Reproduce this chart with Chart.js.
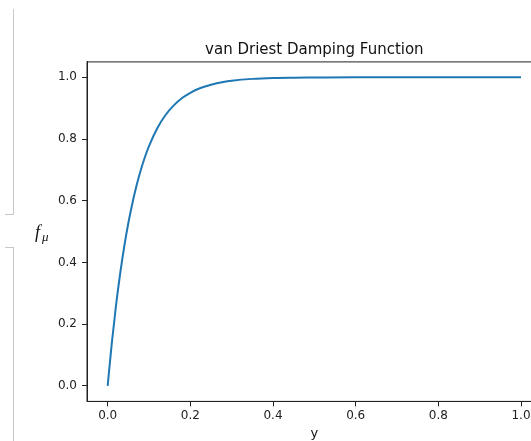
<!DOCTYPE html>
<html>
<head>
<meta charset="utf-8">
<script src="https://cdn.jsdelivr.net/npm/chart.js@4/dist/chart.umd.min.js"></script>
<style>
  html, body { margin: 0; padding: 0; background: #fff; overflow: hidden; }
  #wrap { position: relative; width: 531px; height: 441px; overflow: hidden; }
  #chart { position: absolute; left: 0; top: 0; }
  .edge { position: absolute; background: #c8c8c8; }
</style>
</head>
<body>
<div id="wrap">
  <canvas id="chart" width="545" height="441"></canvas>
  <div class="edge" style="left:13px; top:9px; width:1px; height:205px;"></div>
  <div class="edge" style="left:5px; top:214px; width:9px; height:1px;"></div>
  <div class="edge" style="left:5px; top:247px; width:9px; height:1px;"></div>
  <div class="edge" style="left:13px; top:247px; width:1px; height:194px;"></div>
</div>
<script>
// values
const yPos = [0, 0.01, 0.02, 0.03, 0.04, 0.05, 0.06, 0.07, 0.08, 0.09, 0.10,
              0.12, 0.14, 0.16, 0.18, 0.20, 0.22, 0.25, 0.28, 0.30, 0.35,
              0.40, 0.45, 0.50, 0.60, 0.70, 0.80, 0.90, 1.00];
const fMu = [0, 0.139, 0.259, 0.362, 0.451, 0.528, 0.593, 0.650, 0.699, 0.741, 0.777,
             0.835, 0.878, 0.909, 0.933, 0.950, 0.963, 0.976, 0.985, 0.989, 0.995,
             0.998, 0.999, 0.9994, 1.0, 1.0, 1.0, 1.0, 1.0];
const xTicks = [0, 0.2, 0.4, 0.6, 0.8, 1.0];
const yTicks = [0, 0.2, 0.4, 0.6, 0.8, 1.0];

const title = 'van Driest Damping Function';
const xLabel = 'y';

const axisColor = '#222';
const tickFont = { family: 'DejaVu Sans', size: 12 };

// frame + texts placed relative to the plot area
const decorations = {
    id: 'decorations',
    afterDraw(chart) {
        const { ctx, chartArea: a } = chart;
        ctx.save();
        ctx.strokeStyle = axisColor;
        ctx.lineWidth = 1;
        ctx.strokeRect(a.left, a.top, a.right - a.left, a.bottom - a.top);

        const cx = (a.left + a.right) / 2;
        ctx.fillStyle = '#111';
        ctx.textAlign = 'center';
        ctx.textBaseline = 'middle';
        ctx.font = '15px "DejaVu Sans"';
        ctx.fillText(title, cx, a.top - 12);

        ctx.font = '13px "DejaVu Sans"';
        ctx.fillText(xLabel, cx, a.bottom + 32);

        // y label: italic f with subscript mu
        const cy = (a.top + a.bottom) / 2;
        ctx.textAlign = 'left';
        ctx.textBaseline = 'alphabetic';
        ctx.font = 'italic 18px "Liberation Serif"';
        ctx.fillText('f', 35, cy + 6);
        ctx.font = 'italic 13px "Liberation Serif"';
        ctx.fillText('\u03bc', 42, cy + 9);
        ctx.restore();
    },
};

new Chart(document.getElementById('chart'), {
    type: 'line',
    data: {
        datasets: [{
            data: yPos.map((v, i) => ({ x: v, y: fMu[i] })),
            borderColor: '#1f77b4',
            borderWidth: 2,
            pointRadius: 0,
            cubicInterpolationMode: 'monotone',
            fill: false,
        }],
    },
    options: {
        responsive: false,
        animation: false,
        layout: { padding: { top: 61.9, right: 3.3, left: 0, bottom: 0 } },
        plugins: {
            legend: { display: false },
            tooltip: { enabled: false },
            title: { display: false },
        },
        scales: {
            x: {
                type: 'linear',
                min: -0.05,
                max: 1.05,
                afterFit: (s) => { s.height = 39.6; },
                afterBuildTicks: (s) => { s.ticks = xTicks.map((v) => ({ value: v })); },
                ticks: {
                    color: axisColor,
                    font: tickFont,
                    padding: 2,
                    maxRotation: 0,
                    callback: (v) => v.toFixed(1),
                },
                grid: { drawOnChartArea: false, tickLength: 5, color: axisColor },
                border: { color: axisColor, width: 1 },
            },
            y: {
                type: 'linear',
                min: -0.05,
                max: 1.05,
                afterFit: (s) => { s.width = 87; },
                afterBuildTicks: (s) => { s.ticks = yTicks.map((v) => ({ value: v })); },
                ticks: {
                    color: axisColor,
                    font: tickFont,
                    padding: 5,
                    callback: (v) => v.toFixed(1),
                },
                grid: { drawOnChartArea: false, tickLength: 5, color: axisColor },
                border: { color: axisColor, width: 1 },
            },
        },
    },
    plugins: [decorations],
});
</script>
</body>
</html>
